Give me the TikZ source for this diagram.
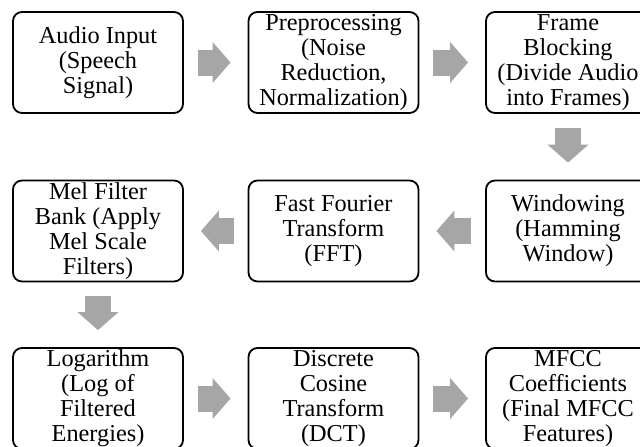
\documentclass[tikz,border=0pt]{standalone}
\usepackage{fontspec}
\setmainfont{Liberation Serif}
\usetikzlibrary{arrows.meta}
\definecolor{arrowgray}{RGB}{166,166,166}
\tikzset{
  stepbox/.style={draw=black, line width=1.8pt, rounded corners=9pt,
    minimum width=170pt, minimum height=101pt, inner sep=0pt, align=center,
    font=\fontsize{24.3}{25}\selectfont},
  narrowbox/.style={stepbox, minimum width=164pt},
  bigarrow/.style={draw=arrowgray, line width=26pt,
    -{Triangle[length=18pt,width=40pt]}, shorten <=14pt, shorten >=17pt}
}
\begin{document}
\begin{tikzpicture}[x=1pt,y=-1pt]
\useasboundingbox (0,0) rectangle (640,447);
\clip (0,0) rectangle (640,447);
\node[stepbox] (A) at (98,62.5) {Audio Input\\(Speech\\Signal)};
\node[stepbox] (B) at (333.5,62.5) {Preprocessing\\(Noise\\Reduction,\\Normalization)};
\node[narrowbox] (C) at (568,62.5) {Frame\\Blocking\\(Divide Audio\\into Frames)};
\node[narrowbox] (D) at (568,231) {Windowing\\(Hamming\\Window)};
\node[stepbox] (E) at (333.5,231) {Fast Fourier\\Transform\\(FFT)};
\node[stepbox] (F) at (98,231) {Mel Filter\\Bank (Apply\\Mel Scale\\Filters)};
\node[stepbox] (G) at (98,398.5) {Logarithm\\(Log of\\Filtered\\Energies)};
\node[stepbox] (H) at (333.5,398.5) {Discrete\\Cosine\\Transform\\(DCT)};
\node[narrowbox] (I) at (568,398.5) {MFCC\\Coefficients\\(Final MFCC\\Features)};
\draw[bigarrow] (A) -- (B);
\draw[bigarrow] (B) -- (C);
\draw[bigarrow] (C) -- (D);
\draw[bigarrow] (D) -- (E);
\draw[bigarrow] (E) -- (F);
\draw[bigarrow] (F) -- (G);
\draw[bigarrow] (G) -- (H);
\draw[bigarrow] (H) -- (I);
\end{tikzpicture}
\end{document}
